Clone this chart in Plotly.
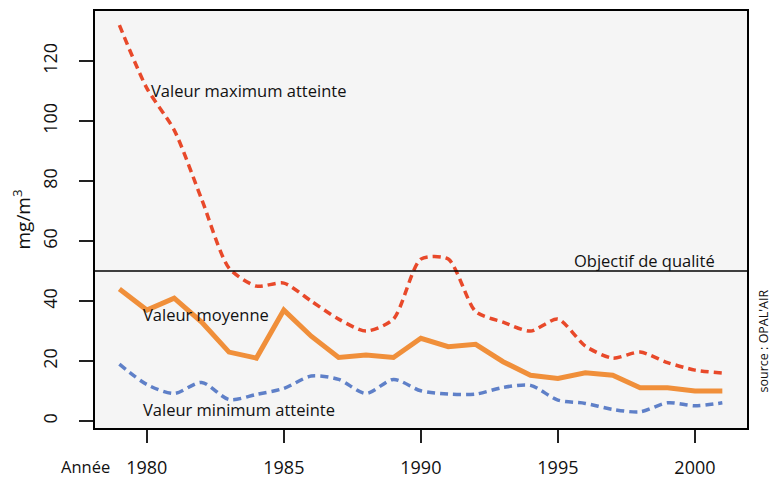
import plotly.graph_objects as go

years = list(range(1979, 2002))
valeur_max = [132, 111, 97, 74, 51, 45, 46, 40, 34, 30, 34, 54, 54, 36.5, 33, 30, 34, 25, 21, 23, 19.5, 17, 16]
valeur_moy = [44, 37, 41, 33, 23, 21, 37, 28.3, 21.2, 22, 21.2, 27.6, 24.8, 25.6, 19.8, 15.3, 14.2, 16.1, 15.3, 11.1, 11.1, 10, 10]
valeur_min = [19, 12.2, 9.2, 12.9, 7.2, 8.9, 10.9, 15, 13.9, 9.2, 13.9, 10.1, 9, 9, 11.2, 11.9, 7, 5.9, 3.9, 3.1, 6.1, 5.1, 6.1]
objectif = 50
x_ticks = [1980, 1985, 1990, 1995, 2000]
y_ticks = [0, 20, 40, 60, 80, 100, 120]

FONT = "Open Sans"
RED = "#e8492a"
ORANGE = "#f08f3a"
BLUE = "#5f80c8"

fig = go.Figure()
fig.add_trace(go.Scatter(x=years, y=valeur_max, mode="lines",
                         line=dict(color=RED, width=3.5, dash="8px,5px", shape="spline", smoothing=0.7)))
fig.add_trace(go.Scatter(x=years, y=valeur_min, mode="lines",
                         line=dict(color=BLUE, width=3.5, dash="8px,5px", shape="spline", smoothing=0.8)))
fig.add_trace(go.Scatter(x=years, y=valeur_moy, mode="lines",
                         line=dict(color=ORANGE, width=5)))

fig.add_hline(y=objectif, line=dict(color="black", width=1.5))

txt = dict(family=FONT, size=16.5, color="#111111")
fig.add_annotation(x=1980.08, y=110.3, text="Valeur maximum atteinte", showarrow=False, xanchor="left", yanchor="middle", font=txt)
fig.add_annotation(x=1979.8, y=35.7, text="Valeur moyenne", showarrow=False, xanchor="left", yanchor="middle", font=txt)
fig.add_annotation(x=1979.8, y=4, text="Valeur minimum atteinte", showarrow=False, xanchor="left", yanchor="middle", font=txt)
fig.add_annotation(x=2000.8, y=53.4, text="Objectif de qualité", showarrow=False, xanchor="right", yanchor="middle", font=txt)
fig.add_annotation(xref="paper", yref="paper", x=-0.0153, y=-0.0935, text="Année", showarrow=False,
                   xanchor="center", yanchor="middle", font=dict(family=FONT, size=16.5, color="#111111"))
fig.add_annotation(xref="paper", yref="paper", x=1.0245, y=0.21, text="source : OPAL'AIR", showarrow=False,
                   textangle=-90, xanchor="center", yanchor="middle", font=dict(family=FONT, size=12.5, color="#111111"))

fig.update_layout(
    width=769, height=470,
    margin=dict(l=87, r=30, t=3, b=50, autoexpand=False),
    paper_bgcolor="white", plot_bgcolor="#f5f5f5",
    showlegend=False,
    font=dict(family=FONT, size=18, color="#111111"),
)
fig.update_xaxes(range=[1978.11, 2001.9], tickvals=x_ticks, ticks="outside", ticklen=13, tickwidth=1.5, tickcolor="#222",
                 showline=True, linecolor="black", linewidth=2, mirror=True, showgrid=False, zeroline=False,
                 ticklabelstandoff=9, tickfont=dict(family=FONT, size=18))
fig.update_yaxes(range=[-2.3, 136.7], tickvals=y_ticks, ticks="outside", ticklen=14, tickwidth=1.5, tickcolor="#222",
                 showline=True, linecolor="black", linewidth=2, mirror=True, showgrid=False, zeroline=False,
                 tickangle=-90, ticklabelstandoff=15, tickfont=dict(family=FONT, size=18),
                 title=dict(text="mg/m<sup>3</sup>", font=dict(family=FONT, size=19), standoff=12))

fig.write_html("out.html")
